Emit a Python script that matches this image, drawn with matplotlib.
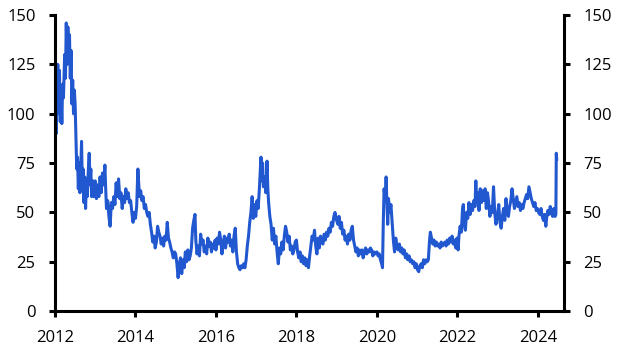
import numpy as np
import matplotlib
matplotlib.use("Agg")
import matplotlib.pyplot as plt

# ── Data (decimal year, spread in bp) ────────────────────────────────────────
t_2012 = [2012.00, 2012.01, 2012.02, 2012.03, 2012.05, 2012.07, 2012.09, 2012.11, 2012.13, 2012.15,
          2012.17, 2012.19, 2012.21, 2012.24, 2012.26, 2012.28, 2012.30, 2012.32, 2012.34, 2012.36,
          2012.38, 2012.40, 2012.42, 2012.44, 2012.46, 2012.48, 2012.50, 2012.52, 2012.54, 2012.56,
          2012.58, 2012.60, 2012.62, 2012.64, 2012.66, 2012.68, 2012.70, 2012.72, 2012.74, 2012.76,
          2012.78, 2012.80, 2012.83, 2012.85, 2012.87, 2012.89, 2012.91, 2012.94, 2012.97]
v_2012 = [150, 108, 124, 90, 118, 125, 100, 122, 96, 110,
          95, 115, 108, 130, 118, 146, 125, 144, 128, 140,
          118, 132, 105, 117, 100, 112, 105, 88, 72, 78,
          62, 75, 60, 72, 86, 62, 72, 55, 68, 52,
          65, 58, 72, 80, 64, 72, 58, 66, 58]

t_2013 = [2013.00, 2013.03, 2013.06, 2013.09, 2013.12, 2013.15, 2013.18, 2013.21, 2013.24, 2013.26,
          2013.28, 2013.31, 2013.34, 2013.37, 2013.40, 2013.43, 2013.46, 2013.49, 2013.52, 2013.55,
          2013.58, 2013.61, 2013.64, 2013.67, 2013.70, 2013.73, 2013.76, 2013.79, 2013.82, 2013.85,
          2013.88, 2013.91, 2013.94, 2013.97]
v_2013 = [66, 57, 64, 58, 68, 60, 70, 64, 74, 62,
          52, 56, 48, 43, 55, 52, 58, 54, 65, 58,
          67, 57, 60, 52, 58, 55, 62, 57, 60, 55,
          56, 50, 45, 50]

t_2014 = [2014.00, 2014.03, 2014.06, 2014.08, 2014.10, 2014.13, 2014.16, 2014.19, 2014.22, 2014.25,
          2014.28, 2014.31, 2014.34, 2014.37, 2014.40, 2014.43, 2014.46, 2014.49, 2014.52, 2014.55,
          2014.58, 2014.61, 2014.64, 2014.67, 2014.70, 2014.73, 2014.76, 2014.79, 2014.82, 2014.85,
          2014.88, 2014.91, 2014.94, 2014.97]
v_2014 = [47, 53, 72, 65, 58, 61, 56, 58, 52, 54,
          50, 48, 50, 44, 40, 35, 38, 32, 35, 43,
          40, 38, 34, 37, 33, 38, 36, 45, 37, 35,
          32, 30, 27, 30]

t_2015 = [2015.00, 2015.03, 2015.06, 2015.09, 2015.12, 2015.15, 2015.18, 2015.21, 2015.24, 2015.27,
          2015.30, 2015.33, 2015.36, 2015.39, 2015.42, 2015.45, 2015.48, 2015.50, 2015.53, 2015.56,
          2015.59, 2015.62, 2015.65, 2015.68, 2015.71, 2015.74, 2015.77, 2015.80, 2015.83, 2015.86,
          2015.89, 2015.92, 2015.95, 2015.98]
v_2015 = [29, 24, 17, 24, 27, 19, 26, 22, 30, 25,
          31, 26, 28, 32, 42, 46, 49, 36, 29, 33,
          28, 39, 34, 36, 30, 33, 29, 37, 33, 35,
          30, 34, 32, 36]

t_2016 = [2016.00, 2016.03, 2016.06, 2016.09, 2016.12, 2016.15, 2016.18, 2016.21, 2016.24, 2016.27,
          2016.30, 2016.33, 2016.36, 2016.39, 2016.42, 2016.45, 2016.48, 2016.51, 2016.54, 2016.57,
          2016.60, 2016.63, 2016.66, 2016.69, 2016.72, 2016.75, 2016.78, 2016.81, 2016.84, 2016.87,
          2016.90, 2016.93, 2016.96, 2016.99]
v_2016 = [31, 37, 34, 40, 36, 29, 34, 38, 32, 37,
          35, 39, 33, 36, 30, 38, 42, 30, 24, 22,
          21, 23, 22, 24, 22, 26, 33, 38, 45, 50,
          58, 47, 54, 48]

t_2017 = [2017.02, 2017.05, 2017.08, 2017.10, 2017.12, 2017.14, 2017.16, 2017.18, 2017.21, 2017.24,
          2017.27, 2017.29, 2017.31, 2017.34, 2017.37, 2017.40, 2017.43, 2017.46, 2017.49, 2017.52,
          2017.55, 2017.58, 2017.61, 2017.64, 2017.67, 2017.70, 2017.73, 2017.76, 2017.79, 2017.82,
          2017.85, 2017.88, 2017.91, 2017.94, 2017.97]
v_2017 = [56, 52, 62, 70, 78, 66, 75, 63, 68, 60,
          76, 62, 55, 48, 44, 36, 42, 34, 38, 30,
          24, 32, 29, 35, 31, 38, 43, 40, 35, 38,
          31, 33, 29, 31, 35]

t_2018 = [2018.00, 2018.03, 2018.06, 2018.09, 2018.12, 2018.15, 2018.18, 2018.21, 2018.24, 2018.27,
          2018.30, 2018.33, 2018.36, 2018.39, 2018.42, 2018.45, 2018.48, 2018.51, 2018.54, 2018.57,
          2018.60, 2018.63, 2018.66, 2018.69, 2018.72, 2018.75, 2018.78, 2018.81, 2018.84, 2018.87,
          2018.90, 2018.93, 2018.96]
v_2018 = [36, 30, 27, 30, 25, 28, 24, 27, 23, 26,
          22, 28, 33, 38, 36, 41, 33, 29, 37, 32,
          38, 35, 34, 39, 36, 40, 38, 42, 40, 45,
          43, 48, 50]

t_2019 = [2019.00, 2019.03, 2019.06, 2019.09, 2019.12, 2019.15, 2019.18, 2019.21, 2019.24, 2019.27,
          2019.30, 2019.33, 2019.36, 2019.39, 2019.42, 2019.45, 2019.48, 2019.51, 2019.54, 2019.57,
          2019.60, 2019.63, 2019.66, 2019.69, 2019.72, 2019.75, 2019.78, 2019.81, 2019.84, 2019.87,
          2019.90, 2019.93, 2019.96]
v_2019 = [46, 44, 48, 42, 45, 39, 41, 36, 38, 34,
          39, 36, 41, 43, 36, 33, 30, 32, 28, 31,
          29, 31, 27, 30, 32, 29, 31, 30, 32, 31,
          28, 30, 29]

t_2020 = [2020.00, 2020.03, 2020.06, 2020.09, 2020.12, 2020.14, 2020.16, 2020.18, 2020.21, 2020.23,
          2020.25, 2020.27, 2020.29, 2020.32, 2020.35, 2020.38, 2020.41, 2020.44, 2020.47, 2020.50,
          2020.53, 2020.56, 2020.59, 2020.62, 2020.65, 2020.68, 2020.71, 2020.74, 2020.77, 2020.80,
          2020.83, 2020.86, 2020.89, 2020.92, 2020.95, 2020.98]
v_2020 = [30, 28, 29, 26, 24, 22, 45, 62, 56, 68,
          55, 44, 57, 50, 54, 45, 36, 30, 37, 33,
          31, 34, 30, 32, 29, 31, 27, 29, 26, 28,
          25, 26, 24, 25, 22, 24]

t_2021 = [2021.01, 2021.04, 2021.07, 2021.10, 2021.13, 2021.16, 2021.19, 2021.22, 2021.25, 2021.28,
          2021.31, 2021.33, 2021.36, 2021.39, 2021.42, 2021.45, 2021.48, 2021.51, 2021.54, 2021.57,
          2021.60, 2021.63, 2021.66, 2021.69, 2021.72, 2021.75, 2021.78, 2021.81, 2021.84, 2021.87,
          2021.90, 2021.93, 2021.96, 2021.99]
v_2021 = [21, 20, 23, 24, 22, 26, 24, 26, 25, 26,
          36, 40, 37, 34, 36, 33, 35, 33, 34, 32,
          35, 33, 34, 35, 33, 36, 34, 37, 35, 38,
          34, 36, 32, 37]

t_2022 = [2022.02, 2022.04, 2022.07, 2022.10, 2022.13, 2022.15, 2022.17, 2022.20, 2022.23, 2022.26,
          2022.29, 2022.32, 2022.35, 2022.38, 2022.41, 2022.44, 2022.46, 2022.48, 2022.51, 2022.54,
          2022.57, 2022.60, 2022.63, 2022.66, 2022.69, 2022.72, 2022.75, 2022.78, 2022.81, 2022.84,
          2022.87, 2022.90, 2022.93, 2022.96]
v_2022 = [31, 38, 43, 40, 52, 54, 44, 41, 50, 47,
          55, 49, 54, 51, 56, 53, 66, 55, 60, 51,
          62, 55, 61, 56, 62, 52, 60, 55, 48, 53,
          50, 63, 50, 44]

t_2023 = [2023.00, 2023.03, 2023.06, 2023.09, 2023.12, 2023.15, 2023.18, 2023.21, 2023.24, 2023.27,
          2023.30, 2023.33, 2023.36, 2023.39, 2023.42, 2023.45, 2023.48, 2023.51, 2023.54, 2023.57,
          2023.60, 2023.63, 2023.66, 2023.69, 2023.72, 2023.75, 2023.78, 2023.81, 2023.84, 2023.87,
          2023.90, 2023.93, 2023.96, 2023.99]
v_2023 = [49, 54, 45, 42, 48, 52, 46, 57, 50, 48,
          53, 56, 62, 57, 52, 55, 58, 53, 55, 51,
          54, 52, 55, 57, 59, 57, 63, 60, 57, 55,
          53, 55, 51, 52]

t_2024 = [2024.02, 2024.05, 2024.08, 2024.11, 2024.14, 2024.17, 2024.20, 2024.22, 2024.25, 2024.28,
          2024.31, 2024.34, 2024.37, 2024.40, 2024.43, 2024.45, 2024.46, 2024.47]
v_2024 = [50, 49, 52, 48, 46, 49, 43, 47, 51, 49,
          53, 50, 48, 52, 48, 49, 80, 77]

YEAR_TICKS  = [2012, 2014, 2016, 2018, 2020, 2022, 2024]
VALUE_TICKS = [0, 25, 50, 75, 100, 125, 150]

t = np.array(t_2012 + t_2013 + t_2014 + t_2015 + t_2016 + t_2017 + t_2018
             + t_2019 + t_2020 + t_2021 + t_2022 + t_2023 + t_2024)
v = np.array(v_2012 + v_2013 + v_2014 + v_2015 + v_2016 + v_2017 + v_2018
             + v_2019 + v_2020 + v_2021 + v_2022 + v_2023 + v_2024)

# ── Chart ─────────────────────────────────────────────────────────────────────
plt.rcParams["font.family"] = ["Open Sans", "DejaVu Sans"]

fig = plt.figure(figsize=(6.18, 3.5), dpi=100)
ax = fig.add_axes([0.089, 0.111, 0.8235, 0.846])

ax.plot(t, v, color="#2158d0", lw=2.2, solid_joinstyle="round")

ax.set_xlim(2012, 2024.65)
ax.set_ylim(0, 150)
ax.set_xticks(YEAR_TICKS)
ax.set_xticklabels([str(y) for y in YEAR_TICKS])
ax.set_yticks(VALUE_TICKS)

ax.spines["top"].set_visible(False)
for side in ["left", "right", "bottom"]:
    ax.spines[side].set_linewidth(2.2)
    ax.spines[side].set_color("black")

ax.tick_params(axis="both", direction="out", length=4, width=2.2,
               labelsize=12, colors="black")
ax.tick_params(axis="x", pad=9.5)
ax.tick_params(axis="y", right=True, labelright=True, pad=10)

fig.savefig("out.png", dpi=100)
